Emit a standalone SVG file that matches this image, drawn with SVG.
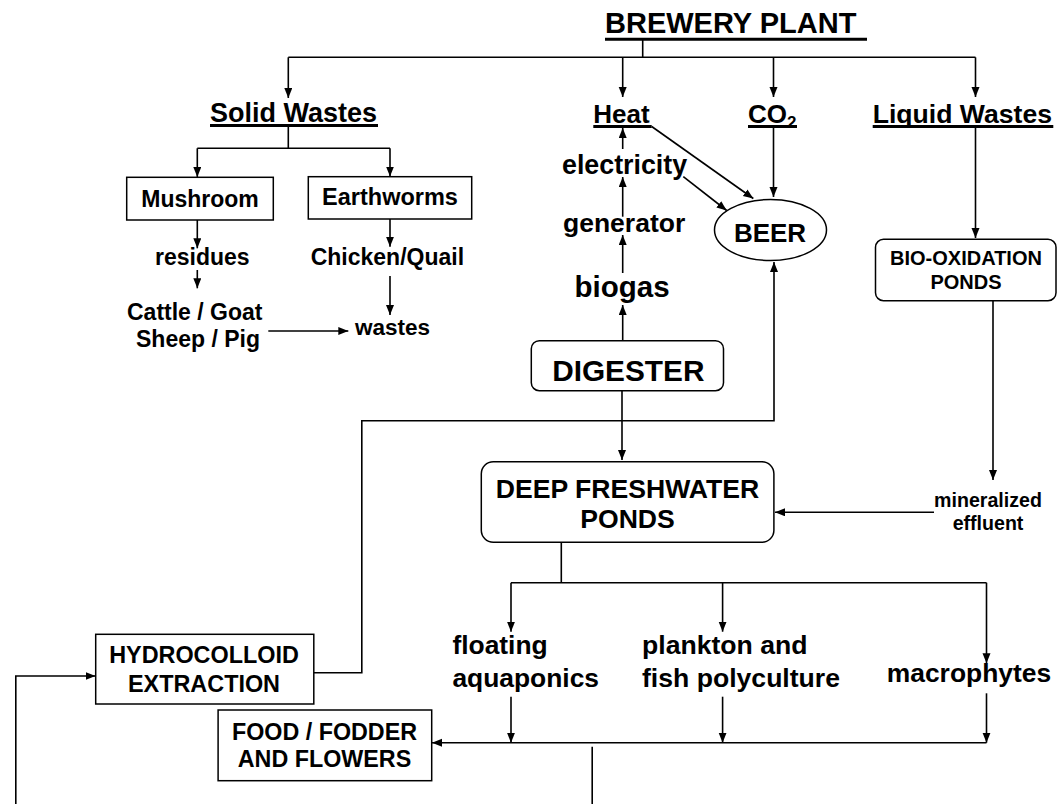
<svg xmlns="http://www.w3.org/2000/svg" width="1057" height="804" viewBox="0 0 1057 804">
  <style>
    text { font-family: "Liberation Sans", Arial, Helvetica, sans-serif; font-weight: bold; fill: #000; }
    .mid { text-anchor: middle; }
    .box { fill: #fff; stroke: #000; stroke-width: 1.5; }
    .ul { stroke: #000; stroke-width: 3; }
    .wire { fill: none; stroke: #000; stroke-width: 1.6; }
    .arrow { fill: none; stroke: #000; stroke-width: 1.6; marker-end: url(#head); }
  </style>
  <defs>
    <marker id="head" markerUnits="userSpaceOnUse" markerWidth="11" markerHeight="9" refX="10" refY="4" orient="auto">
      <path d="M0,0 L10,4 L0,8 z" fill="#000"/>
    </marker>
  </defs>
  <rect width="1057" height="804" fill="#fff"/>

  <!-- connectors -->
  <g id="connectors">
    <!-- plant to its four outputs -->
    <path class="wire" d="M642.7,39 V57.3 M288.3,57.3 H975.5"/>
    <path class="arrow" d="M288.3,57.3 V98"/>
    <path class="arrow" d="M622.7,57.3 V97"/>
    <path class="arrow" d="M773.5,57.3 V97"/>
    <path class="arrow" d="M975.5,57.3 V97"/>
    <!-- solid wastes branch -->
    <path class="wire" d="M288.3,125 V148.3 M197.3,148.3 H390"/>
    <path class="arrow" d="M197.3,148.3 V177"/>
    <path class="arrow" d="M390,148.3 V176.5"/>
    <path class="arrow" d="M197.3,220 V248.3"/>
    <path class="arrow" d="M197.3,270 V288.3"/>
    <path class="arrow" d="M390,219 V246.7"/>
    <path class="arrow" d="M390,276 V315"/>
    <path class="arrow" d="M268.3,331 H348.3"/>
    <!-- energy column -->
    <path class="arrow" d="M622.7,149 V128"/>
    <path class="arrow" d="M622.7,216.7 V177"/>
    <path class="arrow" d="M622.7,273 V235"/>
    <path class="arrow" d="M622.7,340.7 V305"/>
    <path class="arrow" d="M651.7,126.5 L753.3,198.5"/>
    <path class="arrow" d="M683.3,176.7 L726.7,210.5"/>
    <path class="arrow" d="M773.5,128 V197"/>
    <!-- liquid wastes -->
    <path class="arrow" d="M975.5,128 V238"/>
    <path class="arrow" d="M993,300.7 V480"/>
    <path class="arrow" d="M934,512.3 H775"/>
    <!-- digester to ponds -->
    <path class="arrow" d="M622,390.7 V460"/>
    <!-- hydrocolloid return to beer -->
    <path class="arrow" d="M313.8,672.7 H361.8 V420.7 H774 V262"/>
    <!-- ponds distribution -->
    <path class="wire" d="M561.3,542.3 V582.7 M511,582.7 H986.5"/>
    <path class="arrow" d="M511,582.7 V631.7"/>
    <path class="arrow" d="M722.6,582.7 V631.7"/>
    <path class="arrow" d="M986.5,582.7 V663.3"/>
    <path class="arrow" d="M511,696.7 V742.7"/>
    <path class="arrow" d="M722.6,696.7 V742.7"/>
    <path class="arrow" d="M986.5,693.3 V742.7"/>
    <path class="arrow" d="M986.5,742.7 H432"/>
    <path class="wire" d="M592.2,746.7 V804"/>
    <path class="arrow" d="M15.8,804 V676 H95.5"/>
  </g>

  <!-- nodes -->
  <g id="brewery-plant">
    <text x="605" y="33.3" font-size="29">BREWERY PLANT</text>
    <line class="ul" x1="605" y1="39.3" x2="867" y2="39.3"/>
  </g>
  <g id="solid-wastes">
    <text x="210" y="121.7" font-size="27">Solid Wastes</text>
    <line class="ul" x1="210" y1="125.5" x2="378" y2="125.5"/>
  </g>
  <g id="heat">
    <text x="593.3" y="122.7" font-size="26">Heat</text>
    <line class="ul" x1="593.3" y1="126.5" x2="651.7" y2="126.5"/>
  </g>
  <g id="co2">
    <text x="748" y="122.7" font-size="26">CO<tspan dy="5" font-size="17">2</tspan></text>
    <line class="ul" x1="748" y1="126.5" x2="797" y2="126.5"/>
  </g>
  <g id="liquid-wastes">
    <text x="872.7" y="122.7" font-size="26.6">Liquid Wastes</text>
    <line class="ul" x1="872.7" y1="126.5" x2="1053.3" y2="126.5"/>
  </g>

  <g id="mushroom">
    <rect class="box" x="126.7" y="177.3" width="146.6" height="42.7"/>
    <text class="mid" x="200" y="206.7" font-size="23">Mushroom</text>
  </g>
  <g id="earthworms">
    <rect class="box" x="308.3" y="176.7" width="163.4" height="42.3"/>
    <text class="mid" x="390" y="205" font-size="23.5">Earthworms</text>
  </g>
  <g id="residues">
    <text x="155" y="265" font-size="23">residues</text>
  </g>
  <g id="chicken-quail">
    <text x="310.7" y="265" font-size="23">Chicken/Quail</text>
  </g>
  <g id="livestock">
    <text x="127" y="320" font-size="23">Cattle / Goat</text>
    <text x="136" y="346.5" font-size="23">Sheep / Pig</text>
  </g>
  <g id="wastes">
    <text x="355" y="335" font-size="22.5">wastes</text>
  </g>

  <g id="electricity">
    <text x="562" y="173.5" font-size="26.8">electricity</text>
  </g>
  <g id="generator">
    <text x="563" y="231.7" font-size="26.5">generator</text>
  </g>
  <g id="biogas">
    <text x="574.6" y="296.7" font-size="29.5">biogas</text>
  </g>
  <g id="beer">
    <ellipse class="box" cx="770.5" cy="230" rx="56" ry="30.5"/>
    <text class="mid" x="770" y="241.7" font-size="26">BEER</text>
  </g>
  <g id="bio-oxidation-ponds">
    <rect class="box" x="875.5" y="239.3" width="180.5" height="61.4" rx="8"/>
    <text class="mid" x="966" y="265" font-size="20">BIO-OXIDATION</text>
    <text class="mid" x="966" y="289.3" font-size="20">PONDS</text>
  </g>
  <g id="digester">
    <rect class="box" x="531.3" y="340.7" width="192.2" height="50" rx="8"/>
    <text class="mid" x="628.3" y="380.7" font-size="29.8">DIGESTER</text>
  </g>
  <g id="deep-freshwater-ponds">
    <rect class="box" x="481.3" y="461.7" width="292.6" height="80.6" rx="12"/>
    <text class="mid" x="627.5" y="498.3" font-size="26.6">DEEP FRESHWATER</text>
    <text class="mid" x="627.5" y="528.3" font-size="26.6">PONDS</text>
  </g>
  <g id="mineralized-effluent">
    <text class="mid" x="988" y="506.7" font-size="19.6">mineralized</text>
    <text class="mid" x="988" y="530" font-size="19.6">effluent</text>
  </g>
  <g id="hydrocolloid-extraction">
    <rect class="box" x="95.7" y="634.3" width="218.1" height="69.7"/>
    <text class="mid" x="204" y="663" font-size="23.4">HYDROCOLLOID</text>
    <text class="mid" x="204" y="691.7" font-size="23.4">EXTRACTION</text>
  </g>
  <g id="food-fodder-flowers">
    <rect class="box" x="218.1" y="710" width="213.6" height="70.7"/>
    <text class="mid" x="324.5" y="740" font-size="23.3">FOOD / FODDER</text>
    <text class="mid" x="324.5" y="766.7" font-size="23.3">AND FLOWERS</text>
  </g>
  <g id="floating-aquaponics">
    <text x="452.4" y="654.3" font-size="26.4">floating</text>
    <text x="452.4" y="686.7" font-size="26.4">aquaponics</text>
  </g>
  <g id="plankton-fish-polyculture">
    <text x="642" y="654.3" font-size="26.6">plankton and</text>
    <text x="642" y="686.7" font-size="26.6">fish polyculture</text>
  </g>
  <g id="macrophytes">
    <text x="886.8" y="681.7" font-size="26.4">macrophytes</text>
  </g>
</svg>
